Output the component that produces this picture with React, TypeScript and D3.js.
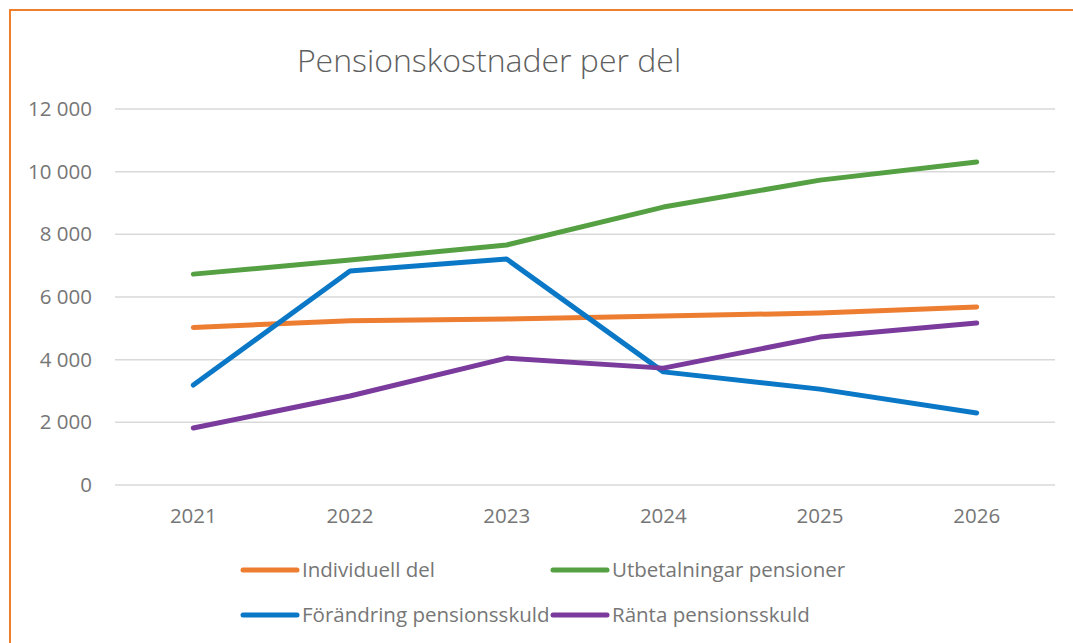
import React from "react";
import * as d3 from "d3";

const years = ["2021", "2022", "2023", "2024", "2025", "2026"];
const individuell = [5030, 5240, 5300, 5390, 5490, 5680];
const utbetalningar = [6730, 7180, 7660, 8870, 9730, 10310];
const forandring = [3190, 6830, 7210, 3610, 3060, 2300];
const ranta = [1820, 2840, 4050, 3730, 4720, 5170];
const yTicks = [0, 2000, 4000, 6000, 8000, 10000, 12000];

const seriesNames = ["Individuell del", "Utbetalningar pensioner", "Förändring pensionsskuld", "Ränta pensionsskuld"];
const seriesValues = [individuell, utbetalningar, forandring, ranta];
const colors = ["#ED7D31", "#55A043", "#0A78C6", "#7A3B9C"];

const W = 1073, H = 643;
const plotLeft = 115, plotRight = 1055, plotTop = 109, plotBottom = 485;
const font = "'Open Sans', sans-serif";
const textColor = "#767676";

const fmt = (v: number) => d3.format(",")(v).replace(/,/g, " ");

export default function App() {
  const x = d3.scalePoint<string>().domain(years).range([plotLeft, plotRight]).padding(0.5);
  const y = d3.scaleLinear().domain([0, 12000]).range([plotBottom, plotTop]);
  const line = d3.line<number>().x((_, i) => x(years[i]) as number).y((d) => y(d));

  const legendPos = [
    { x: 243, y: 570 },
    { x: 553, y: 570 },
    { x: 243, y: 615 },
    { x: 553, y: 615 },
  ];

  return (
    <svg width={W} height={H} style={{ position: "absolute", left: 0, top: 0, display: "block" }} fontFamily={font}>
      <rect x={0} y={0} width={W} height={H} fill="#fff" />
      <rect x={10} y={10} width={W + 10} height={H + 10} fill="none" stroke="#F07F2D" strokeWidth={2} />
      <text x={489} y={72} textAnchor="middle" fontSize={32} fontWeight={300} fill="#5f5f5f">Pensionskostnader per del</text>
      {yTicks.map((t) => (
        <g key={t}>
          <line x1={plotLeft} x2={plotRight} y1={y(t)} y2={y(t)} stroke="#d9d9d9" strokeWidth={1.5} />
          <text x={92} y={y(t) + 7} textAnchor="end" fontSize={20.5} fill={textColor}>{fmt(t)}</text>
        </g>
      ))}
      {years.map((yr) => (
        <text key={yr} x={x(yr)} y={523} textAnchor="middle" fontSize={20.5} fill={textColor}>{yr}</text>
      ))}
      {seriesValues.map((vals, i) => (
        <path key={i} d={line(vals) || ""} fill="none" stroke={colors[i]} strokeWidth={5} strokeLinecap="round" strokeLinejoin="round" />
      ))}
      {seriesNames.map((name, i) => (
        <g key={name}>
          <line x1={legendPos[i].x} x2={legendPos[i].x + 54} y1={legendPos[i].y} y2={legendPos[i].y} stroke={colors[i]} strokeWidth={5} strokeLinecap="round" />
          <text x={legendPos[i].x + 59} y={legendPos[i].y + 7} fontSize={20.5} fill={textColor}>{name}</text>
        </g>
      ))}
    </svg>
  );
}
